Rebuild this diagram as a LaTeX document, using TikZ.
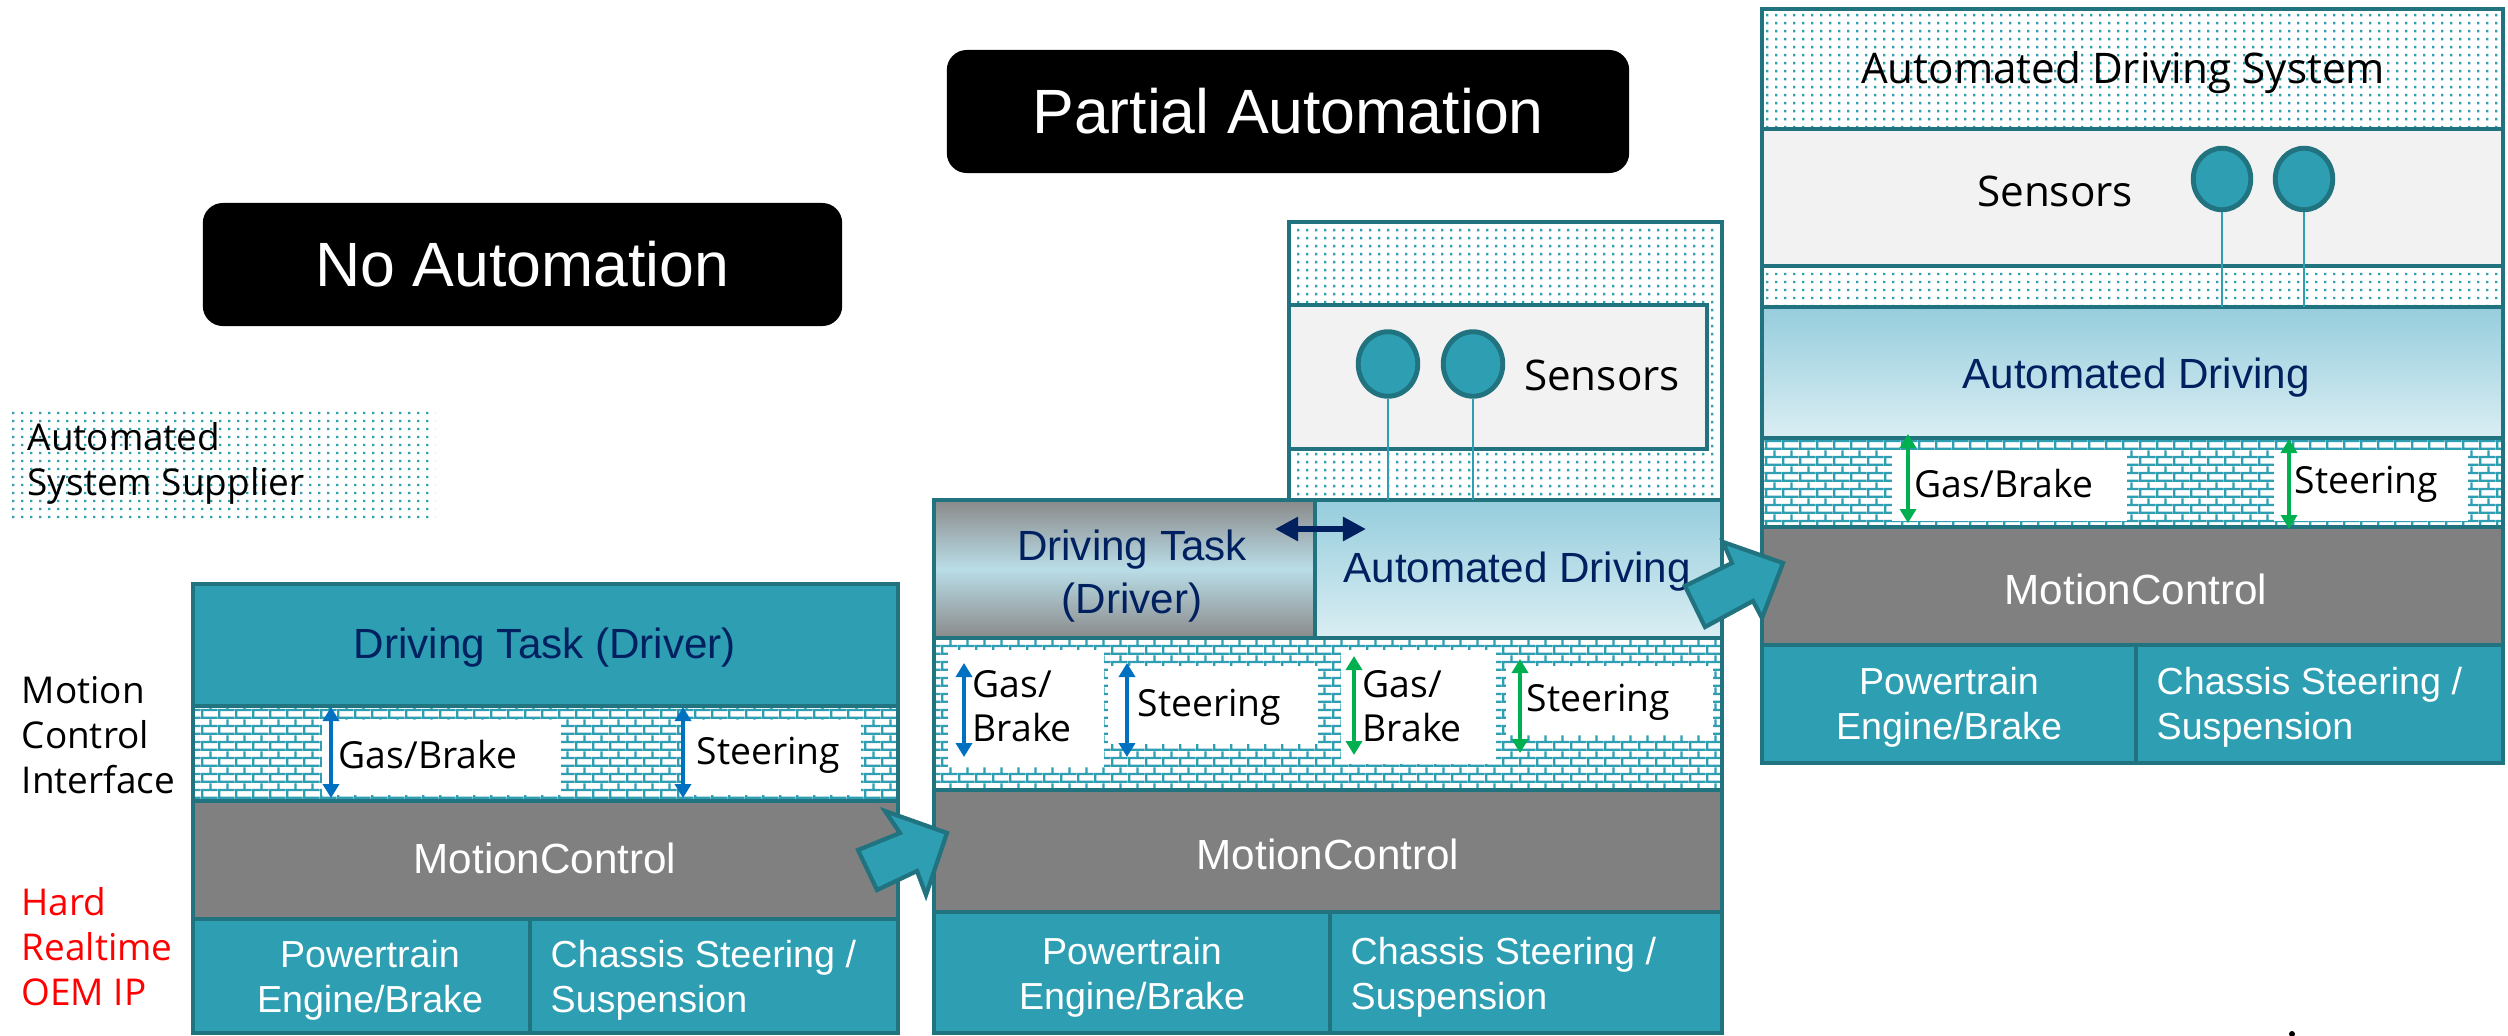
\documentclass[tikz,border=0pt]{standalone}
\usepackage{fontspec}
\setmainfont{Liberation Sans}
\newfontfamily\osans{Open Sans}
\usetikzlibrary{patterns,arrows.meta,shapes.geometric}

\definecolor{teal1}{RGB}{46,158,178}
\definecolor{dteal}{RGB}{33,115,128}
\definecolor{mgray}{RGB}{128,128,128}
\definecolor{navy}{RGB}{0,32,96}
\definecolor{lgray}{RGB}{242,242,242}
\definecolor{abl}{RGB}{0,112,192}
\definecolor{agr}{RGB}{0,176,80}
\definecolor{adtop}{RGB}{150,205,221}
\definecolor{adbot}{RGB}{218,238,243}
\definecolor{dtgray}{RGB}{138,138,138}
\definecolor{dtmid}{RGB}{185,221,231}
\definecolor{redt}{RGB}{255,0,0}

\pgfdeclarepatternformonly{myspdots}{\pgfqpoint{0pt}{0pt}}{\pgfqpoint{2.47pt}{2.22pt}}{\pgfqpoint{2.47pt}{2.22pt}}{%
  \pgfpathrectangle{\pgfqpoint{0.9pt}{0.8pt}}{\pgfqpoint{0.66pt}{0.66pt}}%
  \pgfusepath{fill}}

\pgfdeclarepatternformonly{myhbricks}{\pgfqpoint{0pt}{0pt}}{\pgfqpoint{4.78pt}{4.5pt}}{\pgfqpoint{4.78pt}{4.5pt}}{%
  \pgfsetlinewidth{0.65pt}%
  \pgfpathmoveto{\pgfqpoint{0pt}{0.33pt}}\pgfpathlineto{\pgfqpoint{4.78pt}{0.33pt}}%
  \pgfpathmoveto{\pgfqpoint{0pt}{2.58pt}}\pgfpathlineto{\pgfqpoint{4.78pt}{2.58pt}}%
  \pgfpathmoveto{\pgfqpoint{0.33pt}{0.33pt}}\pgfpathlineto{\pgfqpoint{0.33pt}{2.58pt}}%
  \pgfpathmoveto{\pgfqpoint{2.72pt}{2.58pt}}\pgfpathlineto{\pgfqpoint{2.72pt}{4.5pt}}%
  \pgfusepath{stroke}}

\tikzset{
  bd/.style={draw=dteal, line width=1.3pt},
  tealc/.style={bd, fill=teal1},
  grayc/.style={bd, fill=mgray},
  lgc/.style={bd, fill=lgray},
  dotc/.style={bd, pattern=myspdots, pattern color=teal1},
  brickc/.style={bd, pattern=myhbricks, pattern color=teal1},
  adc/.style={bd, top color=adtop, bottom color=adbot},
  dtc/.style={bd, top color=dtgray, bottom color=dtgray, middle color=dtmid},
  wbox/.style={fill=white},
  titlebox/.style={fill=black, rounded corners=0.2cm, text=white, font=\fontsize{17.8}{20}\selectfont, inner sep=0pt},
  bigt/.style={font=\fontsize{12}{15}\selectfont, inner sep=0pt, align=center},
  navyt/.style={bigt, text=navy},
  whitet/.style={bigt, text=white},
  smallt/.style={font=\fontsize{10.7}{12.8}\selectfont, text=white, inner sep=0pt},
  olbl/.style={font=\osans\fontsize{10.6}{12.5}\selectfont, inner sep=0pt, anchor=west, align=left},
  osbig/.style={font=\osans\fontsize{12}{15}\selectfont, inner sep=0pt},
  sidet/.style={font=\osans\fontsize{10.5}{12.8}\selectfont, inner sep=0pt, anchor=west, align=left},
  iarrow/.style={line width=1.35pt, >={Triangle[length=1.4mm,width=1.6mm]}, <->},
  sensor/.style={ellipse, draw=dteal, line width=1.4pt, fill=teal1, inner sep=0pt},
  sline/.style={draw=teal1, line width=0.5pt},
  blockarrow/.style={fill=teal1, draw=dteal, line width=1.2pt, line join=miter},
}

\begin{document}
\begin{tikzpicture}[x=0.01cm,y=-0.01cm]
\fill[white] (0,0) rectangle (2508,1036);
\useasboundingbox (0,0) rectangle (2508,1036);

% titles
\node[titlebox, minimum width=6.39cm, minimum height=1.23cm] (t1) at (522.5,264.5) {No Automation};
\node[titlebox, minimum width=6.82cm, minimum height=1.23cm] (t2) at (1288,111.5) {Partial Automation};

% legend and side labels
\fill[pattern=myspdots, pattern color=teal1] (8,409) rectangle (435,518);
\node[sidet] (leg) at (27,463) {Automated\\System Supplier};
\node[sidet] (mci) at (21,735) {Motion\\Control\\Interface};
\node[sidet, text=redt] (hr) at (21,947) {Hard\\Realtime\\OEM IP};

% ===== Box 1 =====
\draw[tealc] (193,584) rectangle (898,706);
\draw[brickc] (193,706) rectangle (898,801);
\draw[grayc] (193,801) rectangle (898,919);
\draw[tealc] (193,919) rectangle (530,1033);
\draw[tealc] (530,919) rectangle (898,1033);
\fill[wbox] (322,720) rectangle (561,795);
\fill[wbox] (685,720) rectangle (861,795);
\coordinate (b1a1) at (331,707); \coordinate (b1a2) at (331,798);
\coordinate (b1b1) at (683,707); \coordinate (b1b2) at (683,798);
\draw[iarrow, abl] (b1a1) -- (b1a2);
\draw[iarrow, abl] (b1b1) -- (b1b2);
\node[navyt] (b1dt) at (545,648) {Driving Task (Driver)};
\node[olbl] (b1gb) at (338,755) {Gas/Brake};
\node[olbl] (b1st) at (696,755) {Steering};
\node[whitet] (b1mc) at (545,858) {MotionControl};
\node[smallt, align=center] (b1pt) at (370,980) {Powertrain\\Engine/Brake};
\node[smallt, align=left, anchor=west] (b1ch) at (550,980) {Chassis Steering /\\Suspension};

% ===== Box 2 =====
\draw[dotc] (1289,222) rectangle (1722,500);
\draw[lgc] (1289,305) rectangle (1707,449);
\draw[dtc] (934,500) rectangle (1315,638);
\draw[adc] (1315,500) rectangle (1722,638);
\draw[brickc] (934,638) rectangle (1722,790);
\draw[grayc] (934,790) rectangle (1722,912);
\draw[tealc] (934,912) rectangle (1330,1033);
\draw[tealc] (1330,912) rectangle (1722,1033);
\fill[wbox] (948,650) rectangle (1104,767);
\fill[wbox] (1108,666) rectangle (1318,744);
\fill[wbox] (1341,650) rectangle (1496,764);
\fill[wbox] (1506,666) rectangle (1713,735);
\coordinate (s1e) at (1388,500); \coordinate (s2e) at (1473,500);
\node[sensor, minimum width=0.595cm, minimum height=0.645cm] (s1) at (1388,364) {};
\node[sensor, minimum width=0.595cm, minimum height=0.645cm] (s2) at (1473,364) {};
\draw[sline] (s1.south) -- (s1e);
\draw[sline] (s2.south) -- (s2e);
\node[osbig] (b2sen) at (1602,375) {Sensors};
\node[navyt] (b2dt) at (1132,576) {Driving Task\\(Driver)};
\node[navyt] (b2ad) at (1517,572) {Automated Driving};
\coordinate (hx1) at (1275,529); \coordinate (hx2) at (1366,529);
\draw[navy, line width=1.6pt, >={Triangle[length=2.3mm,width=2.3mm]}, <->] (hx1) -- (hx2);
\coordinate (b2a1) at (964,663); \coordinate (b2a2) at (964,757);
\coordinate (b2b1) at (1127,663); \coordinate (b2b2) at (1127,757);
\coordinate (b2c1) at (1354,656); \coordinate (b2c2) at (1354,755);
\coordinate (b2d1) at (1520,659); \coordinate (b2d2) at (1520,753);
\draw[iarrow, abl] (b2a1) -- (b2a2);
\draw[iarrow, abl] (b2b1) -- (b2b2);
\draw[iarrow, agr] (b2c1) -- (b2c2);
\draw[iarrow, agr] (b2d1) -- (b2d2);
\node[olbl] (b2gb1) at (972,706) {Gas/\\Brake};
\node[olbl] (b2st1) at (1137,707) {Steering};
\node[olbl] (b2gb2) at (1362,706) {Gas/\\Brake};
\node[olbl] (b2st2) at (1526,702) {Steering};
\node[whitet] (b2mc) at (1328,854) {MotionControl};
\node[smallt, align=center] (b2pt) at (1132,977) {Powertrain\\Engine/Brake};
\node[smallt, align=left, anchor=west] (b2ch) at (1350,977) {Chassis Steering /\\Suspension};

% ===== Box 3 =====
\draw[dotc] (1762,9) rectangle (2503,129);
\draw[lgc] (1762,129) rectangle (2503,266);
\draw[dotc] (1762,266) rectangle (2503,307);
\draw[adc] (1762,307) rectangle (2503,438);
\draw[brickc] (1762,438) rectangle (2503,527);
\draw[grayc] (1762,527) rectangle (2503,645);
\draw[tealc] (1762,645) rectangle (2136,763);
\draw[tealc] (2136,645) rectangle (2503,763);
\fill[wbox] (1892,450) rectangle (2127,521);
\fill[wbox] (2274,450) rectangle (2468,521);
\coordinate (s3e) at (2222,307); \coordinate (s4e) at (2304,307);
\node[sensor, minimum width=0.575cm, minimum height=0.615cm] (s3) at (2222,179) {};
\node[sensor, minimum width=0.575cm, minimum height=0.615cm] (s4) at (2304,179) {};
\draw[sline] (s3.south) -- (s3e);
\draw[sline] (s4.south) -- (s4e);
\node[osbig] (b3ads) at (2123,73) {Automated Driving System};
\node[osbig] (b3sen) at (2055,191) {Sensors};
\node[navyt] (b3ad) at (2136,378) {Automated Driving};
\coordinate (b3a1) at (1908,434); \coordinate (b3a2) at (1908,523);
\coordinate (b3b1) at (2289,439); \coordinate (b3b2) at (2289,529);
\draw[iarrow, agr] (b3a1) -- (b3a2);
\draw[iarrow, agr] (b3b1) -- (b3b2);
\node[olbl] (b3gb) at (1914,484) {Gas/Brake};
\node[olbl] (b3st) at (2294,484) {Steering};
\node[whitet] (b3mc) at (2136,589) {MotionControl};
\node[smallt, align=center] (b3pt) at (1949,707) {Powertrain\\Engine/Brake};
\node[smallt, align=left, anchor=west] (b3ch) at (2156,707) {Chassis Steering /\\Suspension};

% ===== block arrows =====
\draw[blockarrow] (858,850) -- (900,833) -- (885,811) -- (947,833) -- (926,895) -- (917,871) -- (877,890) -- cycle;
\draw[blockarrow] (1685,586) -- (1732,563) -- (1723,542) -- (1783,563) -- (1762,618) -- (1753,601) -- (1705,627) -- cycle;

% cut-off mark at bottom
\fill[black] (2292,1034) circle (0.03cm);
\end{tikzpicture}
\end{document}
